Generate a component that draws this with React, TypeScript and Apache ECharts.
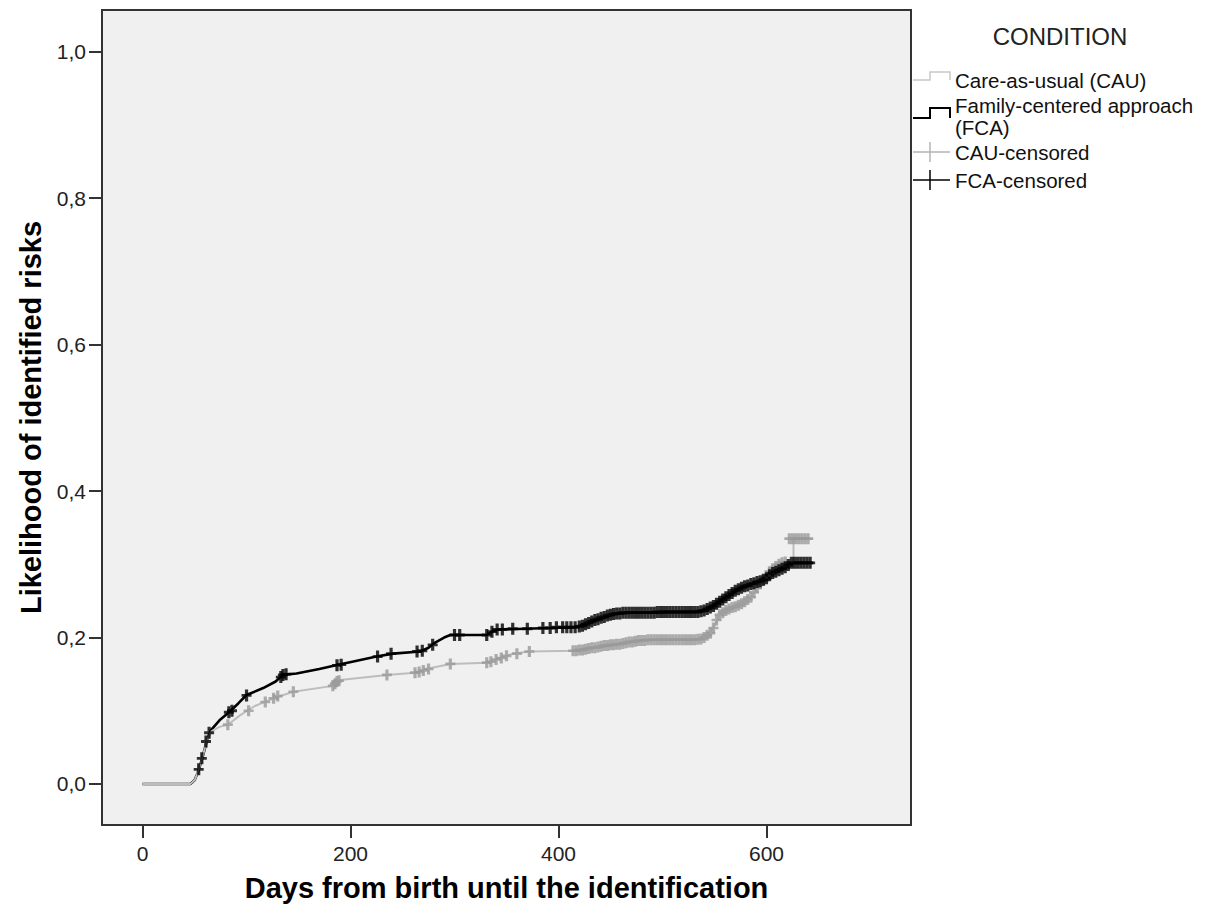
import React, { useEffect, useRef } from "react";
import * as echarts from "echarts";

// ---- data ----
const xTicks = [0, 200, 400, 600];
const yTicks = [0, 0.2, 0.4, 0.6, 0.8, 1.0];

const xTitle = "Days from birth until the identification";
const yTitle = "Likelihood of identified risks";
const legendTitle = "CONDITION";
const legendNames = ["Care-as-usual (CAU)", "Family-centered approach", "(FCA)", "CAU-censored", "FCA-censored"];

// Kaplan-Meier style cumulative curves [day, likelihood]
const fcaCurve = [
  [0, 0], [46, 0], [50, 0.005], [53, 0.015], [57, 0.033], [62, 0.06], [66, 0.074], [74, 0.087],
  [84, 0.099], [92, 0.11], [100, 0.1215], [116, 0.131], [128, 0.14], [135, 0.149], [148, 0.151],
  [170, 0.157], [187, 0.1625], [205, 0.168], [225, 0.174], [241, 0.178], [267, 0.181], [275, 0.186],
  [280, 0.192], [290, 0.2], [296, 0.2035], [331, 0.2035], [336, 0.208], [341, 0.211], [417, 0.214],
  [427, 0.219], [440, 0.226], [456, 0.233], [472, 0.234], [536, 0.235], [546, 0.241], [556, 0.25],
  [562, 0.256], [574, 0.267], [594, 0.277], [606, 0.288], [618, 0.296], [623, 0.302], [645, 0.302],
];

const cauCurve = [
  [0, 0], [46, 0], [50, 0.005], [53, 0.015], [57, 0.033], [62, 0.06], [66, 0.072], [74, 0.078],
  [82, 0.081], [94, 0.094], [108, 0.1065], [126, 0.117], [145, 0.126], [183, 0.134], [190, 0.142],
  [235, 0.149], [262, 0.152], [276, 0.158], [296, 0.164], [331, 0.1657], [344, 0.172], [356, 0.178],
  [372, 0.181], [414, 0.182], [427, 0.185], [453, 0.19], [478, 0.196], [504, 0.197], [534, 0.1975],
  [543, 0.203], [549, 0.213], [555, 0.231], [562, 0.238], [575, 0.245], [585, 0.255], [594, 0.273],
  [603, 0.29], [612, 0.3], [618, 0.303], [626, 0.303], [626, 0.335], [645, 0.335],
];

// censored observations [day, likelihood]
const fcaCensored = [
  [54, 0.02], [57, 0.035], [61, 0.058], [64, 0.07], [83, 0.098], [86, 0.1], [100, 0.121],
  [133, 0.146], [135, 0.149], [138, 0.15], [187, 0.162], [191, 0.163], [226, 0.174], [239, 0.178],
  [264, 0.181], [269, 0.182], [279, 0.19], [300, 0.2035], [305, 0.2035], [331, 0.2035], [336, 0.208],
  [341, 0.211], [346, 0.211], [356, 0.212], [370, 0.212], [385, 0.213], [392, 0.213], [398, 0.214],
  [404, 0.214], [408, 0.214], [412, 0.214], [416, 0.214],
  [420, 0.215], [423, 0.216], [426, 0.218], [429, 0.22], [432, 0.222], [435, 0.224], [438, 0.225],
  [441, 0.227], [444, 0.228], [447, 0.23], [450, 0.231], [453, 0.232], [456, 0.233], [459, 0.233],
  [462, 0.234], [465, 0.234], [468, 0.234], [471, 0.234], [474, 0.234], [477, 0.234], [480, 0.234],
  [483, 0.234], [486, 0.234], [489, 0.234], [492, 0.234], [495, 0.235], [498, 0.235], [501, 0.235],
  [504, 0.235], [507, 0.235], [510, 0.235], [513, 0.235], [516, 0.235], [519, 0.235], [522, 0.235],
  [525, 0.235], [528, 0.235], [531, 0.235], [534, 0.235], [537, 0.236], [540, 0.237], [543, 0.239],
  [546, 0.241], [549, 0.243], [552, 0.246], [555, 0.249], [558, 0.252], [561, 0.255], [564, 0.258],
  [567, 0.261], [570, 0.264], [573, 0.266], [576, 0.268], [579, 0.27], [582, 0.271], [585, 0.273],
  [588, 0.274], [591, 0.276], [594, 0.277], [597, 0.279], [600, 0.281], [603, 0.285], [606, 0.288],
  [609, 0.29], [612, 0.292], [615, 0.294], [618, 0.296], [621, 0.299], [624, 0.302], [627, 0.302],
  [630, 0.302], [633, 0.302], [636, 0.302], [639, 0.302], [642, 0.302],
];

const cauCensored = [
  [82, 0.081], [102, 0.1], [118, 0.112], [126, 0.117], [130, 0.12], [145, 0.126], [183, 0.134],
  [185, 0.137], [187, 0.14], [189, 0.141], [235, 0.149], [262, 0.152], [266, 0.153], [270, 0.155],
  [275, 0.157], [296, 0.164], [331, 0.1657], [335, 0.167], [340, 0.17], [345, 0.172], [350, 0.175],
  [360, 0.178], [372, 0.181],
  [414, 0.182], [417, 0.182], [420, 0.183], [423, 0.183], [426, 0.184], [429, 0.185], [432, 0.186],
  [435, 0.186], [438, 0.187], [441, 0.188], [444, 0.189], [447, 0.189], [450, 0.19], [453, 0.19],
  [456, 0.191], [459, 0.191], [462, 0.192], [465, 0.193], [468, 0.194], [471, 0.194], [474, 0.195],
  [477, 0.196], [480, 0.196], [483, 0.196], [486, 0.197], [489, 0.197], [492, 0.197], [495, 0.197],
  [498, 0.197], [501, 0.197], [504, 0.197], [507, 0.197], [510, 0.197], [513, 0.197], [516, 0.197],
  [519, 0.197], [522, 0.197], [525, 0.197], [528, 0.197], [531, 0.197], [534, 0.1975], [537, 0.198],
  [540, 0.2], [543, 0.203], [546, 0.206], [549, 0.213], [552, 0.224], [555, 0.231], [558, 0.234],
  [561, 0.237], [564, 0.239], [567, 0.241], [570, 0.242], [573, 0.244], [576, 0.246], [579, 0.249],
  [582, 0.252], [585, 0.255], [588, 0.262], [591, 0.268], [594, 0.273], [597, 0.278], [600, 0.284],
  [603, 0.29], [606, 0.294], [609, 0.297], [612, 0.3], [615, 0.302], [618, 0.303],
  [622, 0.335], [625, 0.335], [628, 0.335], [631, 0.335], [634, 0.335], [637, 0.335], [640, 0.335],
];

const PLUS = "path://M3.4,0H6.6V3.8H10V6.2H6.6V10H3.4V6.2H0V3.8H3.4Z";
const FONT = "'Liberation Sans', Arial, sans-serif";

export default function App() {
  const ref = useRef<HTMLDivElement>(null);

  useEffect(() => {
    if (!ref.current) return;
    const chart = echarts.init(ref.current, undefined, { renderer: "svg" });

    const lx = 913;
    const legendGraphics: any[] = [
      {
        type: "text", x: 1060, y: 36,
        style: {
          text: legendTitle, fontFamily: FONT, fontSize: 24, fill: "#222",
          align: "center", verticalAlign: "middle",
        },
      },
      {
        type: "polyline", shape: { points: [[lx, 80], [lx + 17, 80], [lx + 17, 72], [lx + 37, 72], [lx + 37, 80]] },
        style: { stroke: "#c8c8c8", lineWidth: 1.5, fill: "none" },
      },
      {
        type: "polyline", shape: { points: [[lx, 118], [lx + 17, 118], [lx + 17, 108], [lx + 37, 108], [lx + 37, 118]] },
        style: { stroke: "#000", lineWidth: 2, fill: "none" },
      },
      { type: "line", shape: { x1: lx, y1: 152, x2: lx + 37, y2: 152 }, style: { stroke: "#b4b4b4", lineWidth: 1.5 } },
      { type: "line", shape: { x1: lx + 17, y1: 142, x2: lx + 17, y2: 162 }, style: { stroke: "#b4b4b4", lineWidth: 1.5 } },
      { type: "line", shape: { x1: lx, y1: 180, x2: lx + 37, y2: 180 }, style: { stroke: "#000", lineWidth: 1.5 } },
      { type: "line", shape: { x1: lx + 17, y1: 170, x2: lx + 17, y2: 190 }, style: { stroke: "#000", lineWidth: 1.5 } },
    ];
    const textY = [80, 105.5, 127, 152, 180];
    legendNames.forEach((t, i) => {
      legendGraphics.push({
        type: "text", x: 955, y: textY[i],
        style: {
          text: t, fontFamily: FONT, fontSize: 20.5, fill: "#111",
          verticalAlign: "middle",
        },
      });
    });

    chart.setOption({
      animation: false,
      backgroundColor: "#fff",
      grid: {
        left: 102, top: 10, width: 809, height: 815,
        show: true, backgroundColor: "#f0f0f0", borderColor: "#333", borderWidth: 2,
      },
      xAxis: {
        type: "value", min: -39, max: 739,
        name: xTitle, nameLocation: "middle", nameGap: 48,
        nameTextStyle: { fontFamily: FONT, fontSize: 29, fontWeight: "bold", color: "#000" },
        axisLine: { show: true, onZero: false, lineStyle: { color: "#333", width: 2 } },
        axisTick: { show: true, customValues: xTicks, length: 13, lineStyle: { color: "#333", width: 2 } },
        axisLabel: { customValues: xTicks, margin: 18, fontFamily: FONT, fontSize: 21, color: "#222" },
        splitLine: { show: false },
      },
      yAxis: {
        type: "value", min: -0.056, max: 1.057,
        name: yTitle, nameLocation: "middle", nameGap: 57, nameRotate: 90,
        nameTextStyle: { fontFamily: FONT, fontSize: 29, fontWeight: "bold", color: "#000" },
        axisLine: { show: true, onZero: false, lineStyle: { color: "#333", width: 2 } },
        axisTick: { show: true, customValues: yTicks, length: 13, lineStyle: { color: "#333", width: 2 } },
        axisLabel: {
          customValues: yTicks, margin: 16, fontFamily: FONT, fontSize: 21, color: "#222",
          formatter: (v: number) => v.toFixed(1).replace(".", ","),
        },
        splitLine: { show: false },
      },
      graphic: legendGraphics,
      series: [
        {
          name: "FCA", type: "line", data: fcaCurve, showSymbol: false, z: 2,
          lineStyle: { color: "#000", width: 2.6 },
        },
        {
          name: "CAU", type: "line", data: cauCurve, showSymbol: false, z: 3,
          lineStyle: { color: "#bdbdbd", width: 2 },
        },
        {
          name: "CAU-censored", type: "scatter", data: cauCensored, z: 4,
          symbol: PLUS, symbolSize: [10, 11], itemStyle: { color: "#9a9a9a" },
        },
        {
          name: "FCA-censored", type: "scatter", data: fcaCensored, z: 5,
          symbol: PLUS, symbolSize: [10, 12], itemStyle: { color: "#000" },
        },
      ],
    });

    return () => chart.dispose();
  }, []);

  return (
    <div
      ref={ref}
      style={{ position: "absolute", left: 0, top: 0, width: 1215, height: 913 }}
    />
  );
}
